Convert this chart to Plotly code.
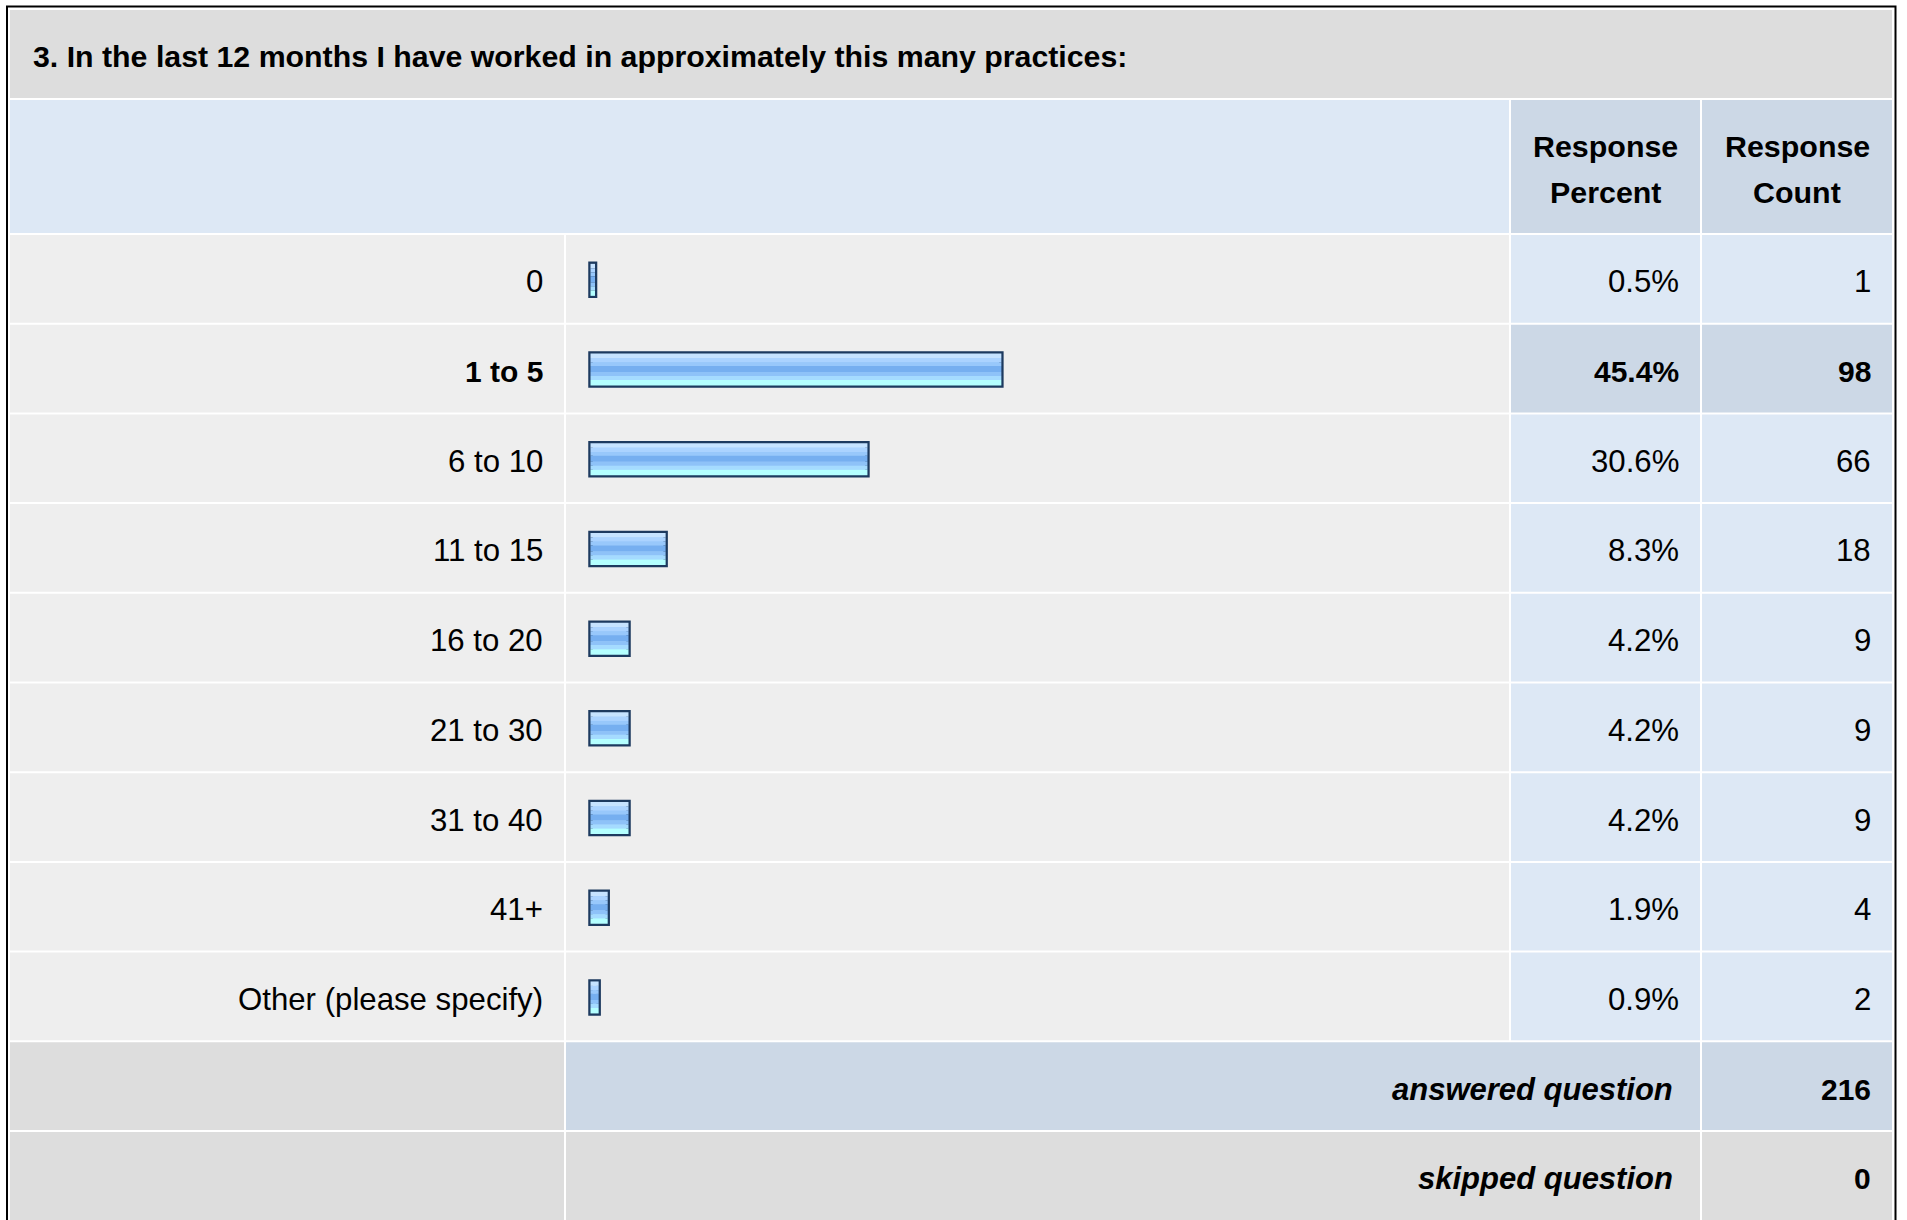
import plotly.graph_objects as go

# ---------------- data ----------------
title_text = "3. In the last 12 months I have worked in approximately this many practices:"
categories = ["0", "1 to 5", "6 to 10", "11 to 15", "16 to 20", "21 to 30",
              "31 to 40", "41+", "Other (please specify)"]
percents = [0.5, 45.4, 30.6, 8.3, 4.2, 4.2, 4.2, 1.9, 0.9]
counts = [1, 98, 66, 18, 9, 9, 9, 4, 2]
header_percent = ["Response", "Percent"]
header_count = ["Response", "Count"]
summary_labels = ["answered question", "skipped question"]
summary_values = [216, 0]

# ---------------- layout constants (pixels) ----------------
W, H = 1907, 1220
X0, X1, X2, X3, X4 = 10, 564, 1509, 1700, 1892
SEP = 2
TITLE_TOP, TITLE_BOT = 10, 98
HEAD_TOP, HEAD_BOT = 100, 233
ROW_TOP0 = 235
ROW_STEP = 89.7
ROW_H = 87.7
ROW_C0 = ROW_TOP0 + ROW_H / 2

ZERO_PX = 590.5      # pixel of 0 %
PX_PER_PCT = 9.05

FONT = "Liberation Sans, Arial, Helvetica, sans-serif"
FS_REG = 31.2
FS_BOLD = 30
FS_HEAD = 30.4
FS_SUM = 31

C_TITLE = "#dddddd"
C_HEAD = "#dde8f5"
C_HEAD_DARK = "#ccd8e6"
C_ROW = "#eeeeee"
C_VAL = "#dde8f5"
C_VAL_HI = "#ccd8e6"
C_SUM = "#dddddd"


def fx(x):
    return x / W


def fy(y):
    return 1 - y / H


def rect(x0, y0, x1, y1, color):
    return dict(type="rect", xref="paper", yref="paper",
                x0=fx(x0), x1=fx(x1), y0=fy(y1), y1=fy(y0),
                fillcolor=color, line=dict(width=0), layer="below")


def text(x, y, s, xanchor, bold=False, italic=False, size=FS_REG):
    if bold:
        s = "<b>" + s + "</b>"
    if italic:
        s = "<i>" + s + "</i>"
    return dict(xref="paper", yref="paper", x=fx(x), y=fy(y), text=s,
                showarrow=False, xanchor=xanchor, yanchor="middle",
                font=dict(family=FONT, size=size, color="#000000"))


n = len(categories)
hi = max(range(n), key=lambda i: counts[i])

shapes = []
annotations = []

# outer frame
shapes.append(dict(type="rect", xref="paper", yref="paper",
                   x0=fx(7), x1=fx(1895.5), y0=fy(1260), y1=fy(6.5),
                   fillcolor="rgba(0,0,0,0)", line=dict(color="#000000", width=2),
                   layer="below"))

# title band
shapes.append(rect(X0, TITLE_TOP, X4, TITLE_BOT, C_TITLE))
annotations.append(text(30.5, 57, title_text, "left", bold=True, size=30.3))

# header
shapes.append(rect(X0, HEAD_TOP, X2, HEAD_BOT, C_HEAD))
shapes.append(rect(X2 + SEP, HEAD_TOP, X3, HEAD_BOT, C_HEAD_DARK))
shapes.append(rect(X3 + SEP, HEAD_TOP, X4, HEAD_BOT, C_HEAD_DARK))
for k, (a, b) in enumerate(zip(header_percent, header_count)):
    yy = 146 + k * 46
    annotations.append(text((X2 + SEP + X3) / 2, yy, a, "center", bold=True, size=FS_HEAD))
    annotations.append(text((X3 + SEP + X4) / 2, yy, b, "center", bold=True, size=FS_HEAD))

# data rows
for i in range(n):
    top = ROW_TOP0 + i * ROW_STEP
    bot = top + ROW_H
    cy = top + ROW_H / 2 + 3
    vc = C_VAL_HI if i == hi else C_VAL
    shapes.append(rect(X0, top, X1, bot, C_ROW))
    shapes.append(rect(X1 + SEP, top, X2, bot, C_ROW))
    shapes.append(rect(X2 + SEP, top, X3, bot, vc))
    shapes.append(rect(X3 + SEP, top, X4, bot, vc))
    b = (i == hi)
    fs = FS_BOLD if b else FS_REG
    annotations.append(text(X1 - 19, cy, categories[i], "right", bold=b, size=fs))
    annotations.append(text(X3 - 19, cy, f"{percents[i]:.1f}%", "right", bold=b, size=fs))
    annotations.append(text(X4 - 19.5, cy, str(counts[i]), "right", bold=b, size=fs))

# summary rows
for j, (lab, val) in enumerate(zip(summary_labels, summary_values)):
    i = n + j
    top = ROW_TOP0 + i * ROW_STEP
    bot = top + ROW_H if j < len(summary_labels) - 1 else H + 20
    cy = top + ROW_H / 2 + 3
    c = C_VAL_HI if j == 0 else C_SUM
    shapes.append(rect(X0, top, X1, bot, C_SUM))
    shapes.append(rect(X1 + SEP, top, X3, bot, c))
    shapes.append(rect(X3 + SEP, top, X4, bot, c))
    annotations.append(text(X3 - 25, cy, lab, "right", bold=True, italic=True, size=FS_SUM))
    annotations.append(text(X4 - 19.5, cy, str(val), "right", bold=True, size=FS_BOLD))

# ---------------- bars ----------------
rows = list(range(n))
BAR_H = 32 / ROW_STEP
SHIFT = 1 / ROW_STEP
bands = [
    (0.00, 0.14, "#c6e3ff"),
    (0.14, 0.27, "#abd3ff"),
    (0.27, 0.39, "#98c8fb"),
    (0.39, 0.58, "#76aff0"),
    (0.58, 0.70, "#8ec2f8"),
    (0.70, 0.83, "#a5dbff"),
    (0.83, 1.00, "#b4ffff"),
]

fig = go.Figure()
fig.add_trace(go.Bar(
    x=percents, y=rows, orientation="h", base=0,
    width=BAR_H, offset=-BAR_H / 2 + SHIFT,
    marker=dict(color="#9cc8fa", line=dict(color="#1d3a5f", width=4.5)),
    hoverinfo="skip", showlegend=False))
for f0, f1, col in bands:
    fig.add_trace(go.Bar(
        x=percents, y=rows, orientation="h", base=0,
        width=(f1 - f0) * BAR_H, offset=-BAR_H / 2 + f0 * BAR_H + SHIFT,
        marker=dict(color=col, line=dict(width=0)),
        hoverinfo="skip", showlegend=False))

y_top = (0 - ROW_C0) / ROW_STEP
y_bot = (H - ROW_C0) / ROW_STEP
x_left = (0 - ZERO_PX) / PX_PER_PCT
x_right = (W - ZERO_PX) / PX_PER_PCT

fig.update_layout(
    width=W, height=H,
    margin=dict(l=0, r=0, t=0, b=0, pad=0),
    paper_bgcolor="#ffffff",
    plot_bgcolor="rgba(0,0,0,0)",
    barmode="overlay",
    xaxis=dict(range=[x_left, x_right], domain=[0, 1], visible=False,
               fixedrange=True),
    yaxis=dict(range=[y_bot, y_top], domain=[0, 1], visible=False,
               fixedrange=True),
    shapes=shapes,
    annotations=annotations,
    font=dict(family=FONT),
)

fig.write_html(
    "out.html",
    config={"displayModeBar": False},
    post_script="document.body.style.margin='0';document.body.style.overflow='hidden';",
)
